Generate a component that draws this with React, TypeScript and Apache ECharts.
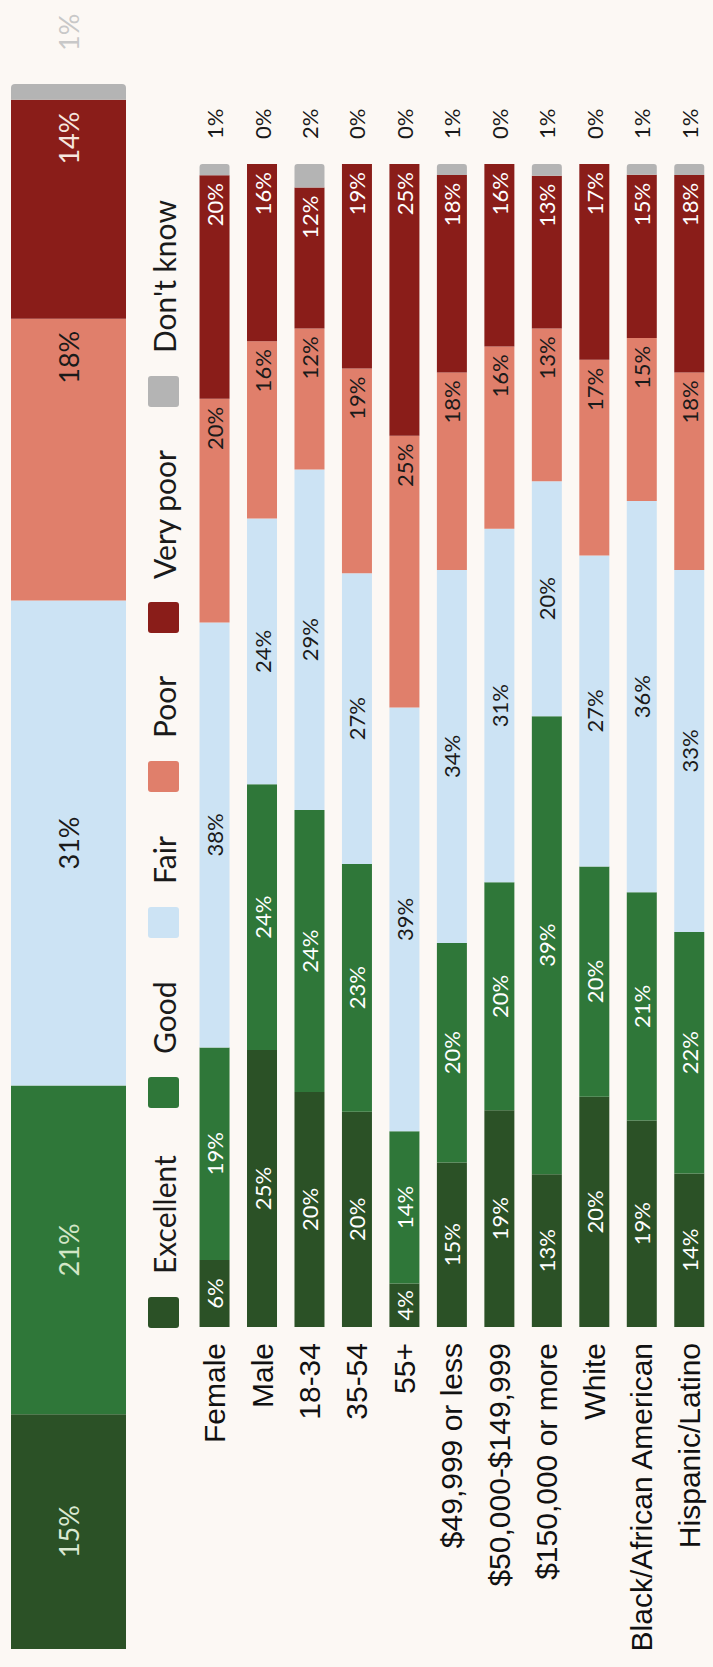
import { useEffect, useRef } from "react";
import * as echarts from "echarts";

// Survey ratings by group (labelled percentages)
const categories = [
  "Female",
  "Male",
  "18-34",
  "35-54",
  "55+",
  "$49,999 or less",
  "$50,000-$149,999",
  "$150,000 or more",
  "White",
  "Black/African American",
  "Hispanic/Latino",
];
const ratingNames = ["Excellent", "Good", "Fair", "Poor", "Very poor", "Don't know"];
const excellent = [6, 25, 20, 20, 4, 15, 19, 13, 20, 19, 14];
const good = [19, 24, 24, 23, 14, 20, 20, 39, 20, 21, 22];
const fair = [38, 24, 29, 27, 39, 34, 31, 20, 27, 36, 33];
const poor = [20, 16, 12, 19, 25, 18, 16, 13, 17, 15, 18];
const veryPoor = [20, 16, 12, 19, 25, 18, 16, 13, 17, 15, 18];
const dontKnow = [1, 0, 2, 0, 0, 1, 0, 1, 0, 1, 1];

// All respondents: Excellent, Good, Fair, Poor, Very poor, Don't know
const overall = [15, 21, 31, 18, 14, 1];

const colors = ["#2b5126", "#2f7739", "#cce3f4", "#e07f6b", "#8a1d19", "#b4b4b4"];

const LABEL_FONT = "Lato, 'Open Sans', sans-serif";
const AXIS_FONT = "'Liberation Sans', Arial, Helvetica, sans-serif";

// square legend swatch with slightly rounded corners
const SWATCH =
  "path://M3,0H28A3,3,0,0,1,31,3V28A3,3,0,0,1,28,31H3A3,3,0,0,1,0,28V3A3,3,0,0,1,3,0Z";

export default function App() {
  const ref = useRef<HTMLDivElement>(null);

  useEffect(() => {
    document.body.style.margin = "0";
    document.body.style.background = "#fcf8f4";
    if (!ref.current) return;
    const chart = echarts.init(ref.current, undefined, { renderer: "svg" });

    const groups = [excellent, good, fair, poor, veryPoor, dontKnow];
    const rowTotals = categories.map((_, i) =>
      groups.reduce((s, g) => s + g[i], 0)
    );
    // each group's bar is scaled to a full 100% width
    const share = (arr: number[]) => arr.map((v, i) => (v / rowTotals[i]) * 100);
    const overallTotal = overall.reduce((s, v) => s + v, 0);

    const smallLabelColors = ["#ffffff", "#ffffff", "#1a1a1a", "#1a1a1a", "#ffffff", "#1a1a1a"];
    const bigLabelColors = ["#dbe9d2", "#d3e6c6", "#1a1a1a", "#1a1a1a", "#f6e6df", "#c8c8c8"];
    const positions = ["inside", "inside", "inside", "insideRight", "insideRight", "right"];

    const groupSeries = ratingNames.map((name, k) => ({
      name,
      type: "bar",
      stack: "groups",
      xAxisIndex: 1,
      yAxisIndex: 1,
      barWidth: 30,
      itemStyle: {
        color: colors[k],
        borderRadius: k === 5 ? [0, 3, 3, 0] : 0,
      },
      label: {
        show: true,
        position: positions[k],
        distance: k === 5 ? 25 : 8,
        color: smallLabelColors[k],
        fontFamily: LABEL_FONT,
        fontSize: 22,
        formatter: (p: any) => `${groups[k][p.dataIndex]}%`,
      },
      data: share(groups[k]),
    }));

    const overallSeries = ratingNames.map((name, k) => ({
      name,
      type: "bar",
      stack: "overall",
      xAxisIndex: 0,
      yAxisIndex: 0,
      barWidth: 115,
      itemStyle: {
        color: colors[k],
        borderRadius: k === 5 ? [0, 4, 4, 0] : 0,
      },
      label: {
        show: true,
        position: positions[k],
        distance: k === 5 ? 33 : 12,
        color: bigLabelColors[k],
        fontFamily: LABEL_FONT,
        fontSize: 27,
        formatter: () => `${overall[k]}%`,
      },
      data: [(overall[k] / overallTotal) * 100],
    }));

    const legendLeft = [339, 559, 729, 875, 1034, 1260];
    const legends = ratingNames.map((name, k) => ({
      data: [name],
      left: legendLeft[k],
      top: 148,
      padding: 0,
      orient: "horizontal",
      icon: SWATCH,
      itemWidth: 31,
      itemHeight: 31,
      selectedMode: false,
      textStyle: {
        fontFamily: LABEL_FONT,
        fontSize: 30,
        color: "#1a1a1a",
        lineHeight: 31,
        padding: [0, 0, 0, 18],
      },
    }));

    chart.setOption({
      animation: false,
      backgroundColor: "#fcf8f4",
      legend: legends,
      grid: [
        { left: 18, width: 1565, top: 11, height: 115 },
        { left: 340, width: 1163, top: 190.8, height: 532.4 },
      ],
      xAxis: [
        { type: "value", gridIndex: 0, min: 0, max: 100, show: false },
        { type: "value", gridIndex: 1, min: 0, max: 100, show: false },
      ],
      yAxis: [
        { type: "category", gridIndex: 0, data: ["All"], show: false },
        {
          type: "category",
          gridIndex: 1,
          data: categories,
          inverse: true,
          axisLine: { show: false },
          axisTick: { show: false },
          axisLabel: {
            margin: 16,
            fontFamily: AXIS_FONT,
            fontSize: 30,
            color: "#111111",
          },
        },
      ],
      series: [...overallSeries, ...groupSeries],
    });

    return () => chart.dispose();
  }, []);

  return (
    <div
      style={{
        position: "absolute",
        left: 0,
        top: 0,
        width: 713,
        height: 1667,
        overflow: "hidden",
        background: "#fcf8f4",
      }}
    >
      <div
        ref={ref}
        style={{
          position: "absolute",
          left: 0,
          top: 0,
          width: 1667,
          height: 713,
          transformOrigin: "0 0",
          transform: "translate(0px, 1667px) rotate(-90deg)",
        }}
      />
    </div>
  );
}
